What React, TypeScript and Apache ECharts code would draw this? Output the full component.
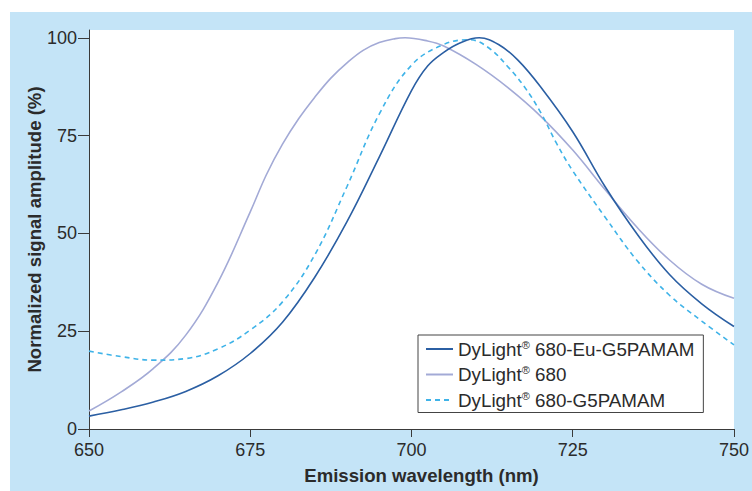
import React, { useEffect, useRef } from "react";
import * as echarts from "echarts";

const seriesNames = ["DyLight® 680-Eu-G5PAMAM", "DyLight® 680", "DyLight® 680-G5PAMAM"];

const euWavelength = [650, 655, 660, 665, 670, 675, 680, 685, 690, 695, 700, 702.5, 705, 707.5, 710.5, 713.5, 716.5, 720, 725, 730, 735, 740, 745, 750];
const euAmplitude = [3.3, 4.9, 6.9, 9.6, 13.6, 19.3, 27.3, 38.8, 53, 69.5, 86.5, 92.8, 96.3, 98.7, 100, 98.3, 94.3, 87.5, 76, 62, 49.8, 39.5, 32, 26.2];

const dyWavelength = [650, 655, 660, 665, 670, 675, 677.5, 680, 682.5, 685, 687.5, 690, 692.5, 695, 697.5, 699, 702.5, 705, 710, 715, 720, 725, 730, 735, 740, 745, 750];
const dyAmplitude = [4.6, 9.5, 15.5, 24, 37.5, 55.5, 65, 72.8, 79.3, 84.8, 89.7, 93.6, 96.8, 98.8, 99.8, 100, 99.2, 97.9, 93.2, 87.2, 80, 71.3, 61.2, 51.5, 43.2, 37, 33.4];

const g5Wavelength = [650, 655, 660, 665, 670, 675, 680, 685, 690, 695, 700, 705, 709, 712, 715, 717.5, 720, 722.5, 725, 730, 735, 740, 745, 750];
const g5Amplitude = [19.9, 18.5, 17.6, 18, 20.5, 25.3, 32.5, 44.5, 62, 80.5, 93, 98.3, 99.5, 97.4, 92.5, 87.5, 81, 73, 66, 54.2, 43, 34.2, 27.6, 21.5];

const xTicks = [650, 675, 700, 725, 750];
const yTicks = [0, 25, 50, 75, 100];

const pair = (xs: number[], ys: number[]) => xs.map((x, i) => [x, ys[i]]);

const FONT = "'Liberation Sans', Arial, sans-serif";
const AXIS = "#3a3a3a";
const TEXT = "#2b2b2b";

export default function App() {
  const ref = useRef<HTMLDivElement>(null);
  useEffect(() => {
    if (!ref.current) return;
    const chart = echarts.init(ref.current, undefined, { renderer: "svg" });
    const colors = ["#2b5fa3", "#a3aad6", "#3fb3e8"];
    chart.setOption({
      animation: false,
      textStyle: { fontFamily: FONT },
      graphic: [
        {
          type: "rect",
          z: -10,
          silent: true,
          shape: { x: 10, y: 12, width: 742, height: 479 },
          style: { fill: "#c4e4f7" },
        },
      ],
      grid: {
        left: 89,
        right: 16,
        top: 30,
        bottom: 62,
        show: true,
        backgroundColor: "#ffffff",
        borderWidth: 0,
      },
      legend: {
        left: 418,
        top: 335,
        orient: "vertical",
        borderColor: "#444",
        borderWidth: 1,
        padding: [4, 9, 3, 7],
        backgroundColor: "#fff",
        itemWidth: 27,
        itemHeight: 14,
        itemGap: 6,
        itemStyle: { opacity: 0 },
        data: seriesNames,
        formatter: (name: string) => {
          const rest = name.replace("DyLight® ", "");
          return `{a|DyLight}{s|®}{a| ${rest}}`;
        },
        textStyle: {
          fontFamily: FONT,
          color: TEXT,
          rich: {
            a: { fontSize: 18.8, fontFamily: FONT, color: TEXT, lineHeight: 20 },
            s: { fontSize: 11, fontFamily: FONT, color: TEXT, verticalAlign: "top", lineHeight: 20, padding: [0, 0, 6, 0] },
          },
        },
      },
      xAxis: {
        type: "value",
        min: 650,
        max: 750,
        interval: 25,
        name: "Emission wavelength (nm)",
        nameLocation: "middle",
        nameGap: 37,
        nameMoveOverlap: false,
        nameTextStyle: { fontFamily: FONT, fontWeight: "bold", fontSize: 18.6, color: TEXT, padding: [0, 0, 0, 20] },
        splitLine: { show: false },
        axisLine: { show: true, lineStyle: { color: AXIS, width: 1 } },
        axisTick: { show: true, length: 8, lineStyle: { color: AXIS }, customValues: xTicks },
        axisLabel: { fontSize: 18, color: TEXT, fontFamily: FONT, margin: 12, customValues: xTicks },
      },
      yAxis: {
        type: "value",
        min: 0,
        max: 102,
        name: "Normalized signal amplitude (%)",
        nameLocation: "middle",
        nameGap: 45,
        nameMoveOverlap: false,
        nameTextStyle: { fontFamily: FONT, fontWeight: "bold", fontSize: 18.6, color: TEXT },
        splitLine: { show: false },
        axisLine: { show: true, lineStyle: { color: AXIS, width: 1 } },
        axisTick: { show: true, length: 11, lineStyle: { color: AXIS }, customValues: yTicks },
        axisLabel: { fontSize: 18, color: TEXT, fontFamily: FONT, margin: 12, customValues: yTicks },
      },
      series: [
        {
          name: seriesNames[0],
          type: "line",
          data: pair(euWavelength, euAmplitude),
          smooth: 0.4,
          symbol: "none",
          color: colors[0],
          lineStyle: { color: colors[0], width: 1.6 },
          z: 3,
        },
        {
          name: seriesNames[1],
          type: "line",
          data: pair(dyWavelength, dyAmplitude),
          smooth: 0.4,
          symbol: "none",
          color: colors[1],
          lineStyle: { color: colors[1], width: 1.6 },
          z: 2,
        },
        {
          name: seriesNames[2],
          type: "line",
          data: pair(g5Wavelength, g5Amplitude),
          smooth: 0.4,
          symbol: "none",
          color: colors[2],
          lineStyle: { color: colors[2], width: 1.6, type: [5, 4] },
          z: 2,
        },
      ],
    });
    return () => chart.dispose();
  }, []);
  return (
    <div
      ref={ref}
      style={{ position: "fixed", left: 0, top: 0, width: 752, height: 491, background: "#ffffff" }}
    />
  );
}
